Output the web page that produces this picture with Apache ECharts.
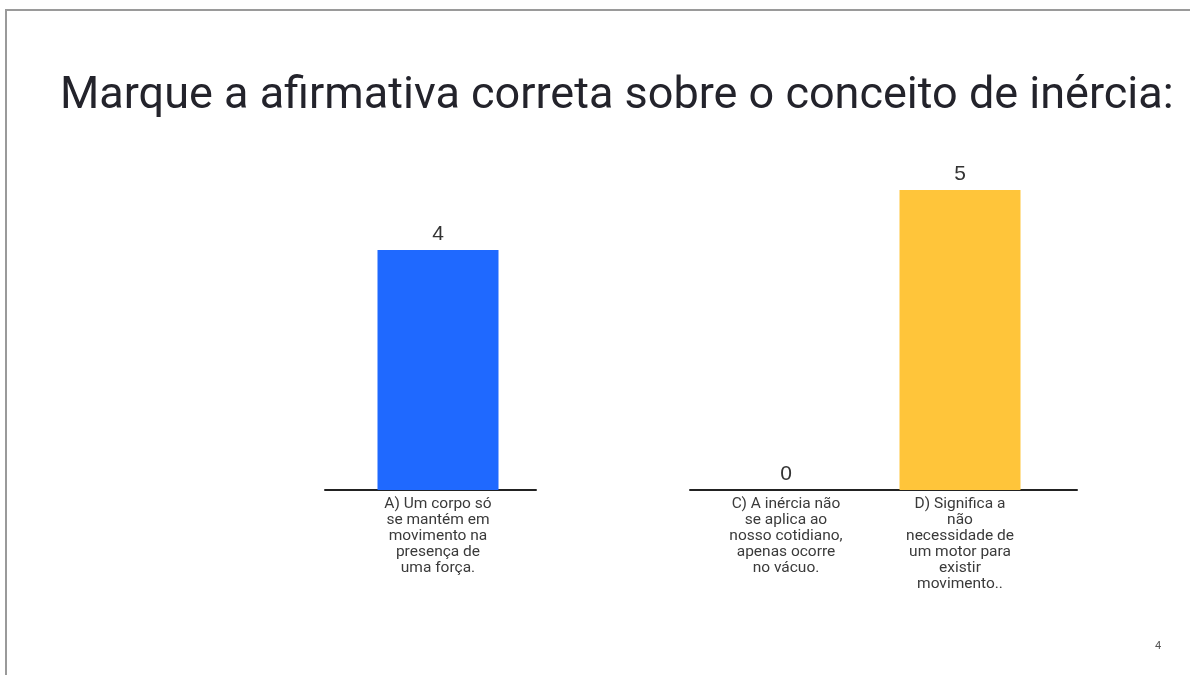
<!DOCTYPE html>
<html>
<head>
<meta charset="utf-8">
<title>Marque a afirmativa correta sobre o conceito de inércia</title>
<script src="https://cdn.jsdelivr.net/npm/echarts@6/dist/echarts.min.js"></script>
<style>
  html, body { margin: 0; padding: 0; background: #ffffff; }
  #wrap { position: relative; width: 1190px; height: 675px; overflow: hidden; }
  #frame { position: absolute; left: 5px; top: 9px; right: -4px; bottom: -4px;
           border-top: 2px solid #9a9a9a; border-left: 2px solid #9a9a9a; }
  #chart { position: absolute; left: 0; top: 0; width: 1190px; height: 675px; }
</style>
</head>
<body>
<div id="wrap">
  <div id="frame"></div>
  <div id="chart"></div>
</div>
<script>
// Question shown on the slide
const titleText = 'Marque a afirmativa correta sobre o conceito de inércia:';
const slideNumber = '4';

// First group of answers
const groupOneCategories = ['A) Um corpo só\nse mantém em\nmovimento na\npresença de\numa força.'];
const groupOneValues = [4];

// Second group of answers
const groupTwoCategories = [
  'C) A inércia não\nse aplica ao\nnosso cotidiano,\napenas ocorre\nno vácuo.',
  'D) Significa a\nnão\nnecessidade de\num motor para\nexistir\nmovimento..'
];
const groupTwoValues = [0, 5];

const barColors = ['#1f69ff', '#ffc53a'];

const allValues = groupOneValues.concat(groupTwoValues);
const yMax = Math.max.apply(null, allValues);

const chart = echarts.init(document.getElementById('chart'), null, { renderer: 'canvas' });

const textFont = 'Roboto, "Noto Sans", sans-serif';
const gridTop = 190, gridHeight = 300;

const hiddenY = (gridIndex) => ({
  type: 'value', gridIndex, min: 0, max: yMax,
  show: false, splitLine: { show: false }
});

const barAxis = (gridIndex, data) => ({
  type: 'category', gridIndex, data,
  axisLine: { show: false }, axisTick: { show: false },
  axisLabel: {
    interval: 0, margin: 6, color: '#3a3a3a',
    fontFamily: textFont, fontSize: 15.5, lineHeight: 16
  }
});

const baseAxis = (gridIndex) => ({
  type: 'category', gridIndex, data: [''],
  axisLine: { show: true, lineStyle: { color: '#222222', width: 2 } },
  axisTick: { show: false }, axisLabel: { show: false }
});

const valueLabel = {
  show: true, position: 'top', distance: 5,
  color: '#333333', fontFamily: '"Liberation Sans", Arial, sans-serif', fontSize: 21
};

chart.setOption({
  animation: false,
  backgroundColor: 'transparent',
  title: [
    {
      text: titleText, left: 55, top: 69,
      textStyle: { fontFamily: textFont, fontWeight: 400, fontSize: 45, color: '#23232b' }
    },
    {
      text: slideNumber, left: 1150, top: 636,
      textStyle: { fontFamily: textFont, fontWeight: 400, fontSize: 11, color: '#555555' }
    }
  ],
  grid: [
    { left: 351, width: 174, top: gridTop, height: gridHeight },
    { left: 699, width: 348, top: gridTop, height: gridHeight },
    { left: 325, width: 211, top: gridTop, height: gridHeight },
    { left: 690, width: 387, top: gridTop, height: gridHeight }
  ],
  xAxis: [
    barAxis(0, groupOneCategories),
    barAxis(1, groupTwoCategories),
    baseAxis(2),
    baseAxis(3)
  ],
  yAxis: [hiddenY(0), hiddenY(1), hiddenY(2), hiddenY(3)],
  series: [
    {
      type: 'bar', xAxisIndex: 0, yAxisIndex: 0,
      data: groupOneValues, barWidth: 121,
      itemStyle: { color: barColors[0] },
      label: valueLabel
    },
    {
      type: 'bar', xAxisIndex: 1, yAxisIndex: 1,
      data: groupTwoValues, barWidth: 121,
      itemStyle: { color: barColors[1] },
      label: valueLabel
    }
  ]
});
</script>
</body>
</html>
